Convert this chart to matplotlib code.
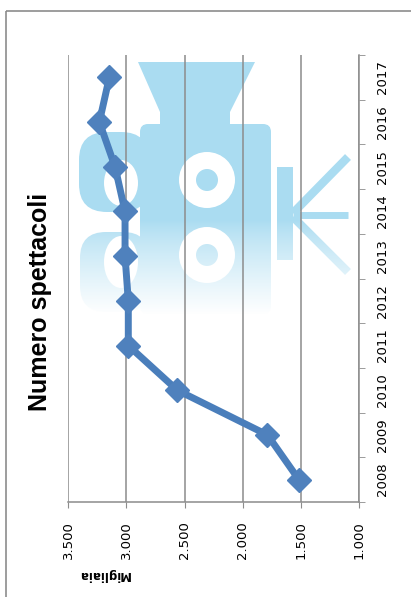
import numpy as np
import matplotlib
matplotlib.use('Agg')
import matplotlib.pyplot as plt
from matplotlib.patches import Rectangle, Polygon, FancyBboxPatch, Circle, Ellipse

years = ['2008', '2009', '2010', '2011', '2012', '2013', '2014', '2015', '2016', '2017']
spettacoli = [1517, 1787, 2562, 2984, 2984, 3012, 3012, 3098, 3233, 3147]
ticks = [1000, 1500, 2000, 2500, 3000, 3500]
tick_labels = ['1.000', '1.500', '2.000', '2.500', '3.000', '3.500']

W, H = 411, 597
fig = plt.figure(figsize=(W / 100, H / 100), dpi=100)

# background layer in pixel coords (y down)
bg = fig.add_axes([0, 0, 1, 1], zorder=0)
bg.set_xlim(0, W)
bg.set_ylim(H, 0)
bg.axis('off')
bg.add_patch(Rectangle((6, 11), 420, 600, fill=False, ec='#8c8c8c', lw=1.2))

# watermark logo
wm = '#aadcf1'
bg.add_patch(Polygon([(138, 62), (255, 62), (230, 112), (230, 124), (160, 124), (160, 112)],
                     closed=True, fc=wm, ec='none'))
bg.add_patch(FancyBboxPatch((140, 124), 131, 190, boxstyle='round,pad=0,rounding_size=8',
                            fc=wm, ec='none'))
bg.add_patch(FancyBboxPatch((79, 132), 70, 80, boxstyle='round,pad=0,rounding_size=28',
                            fc=wm, ec='none'))
bg.add_patch(FancyBboxPatch((80, 232), 69, 80, boxstyle='round,pad=0,rounding_size=26',
                            fc=wm, ec='none'))
bg.add_patch(Ellipse((121, 183), 34, 46, fc='white', ec='none'))
bg.add_patch(Ellipse((121, 262), 34, 52, fc='white', ec='none'))
for cy in (180, 255):
    bg.add_patch(Circle((207, cy), 28, fc='white', ec='none'))
    bg.add_patch(Circle((207, cy), 11, fc=wm, ec='none'))
bg.add_patch(Rectangle((277, 167), 16, 93, fc=wm, ec='none'))
bg.plot([293, 348], [213, 157], color=wm, lw=6, solid_capstyle='butt')
bg.plot([293, 348], [215, 215], color=wm, lw=5, solid_capstyle='butt')
bg.plot([293, 348], [217, 272], color=wm, lw=6, solid_capstyle='butt')
# fade the lower part of the logo
grad = np.linspace(0, 1, 100).reshape(-1, 1)
fade = np.ones((100, 1, 4))
fade[..., 3] = grad ** 0.8
bg.imshow(fade, extent=(70, 360, 315, 220), aspect='auto', interpolation='bilinear', zorder=5)

# main chart (rotated layout)
ax = fig.add_axes([68.3 / W, (H - 502) / H, (359 - 68.3) / W, (502 - 55) / H], zorder=1)
ax.patch.set_alpha(0)
y = np.arange(len(years))
ax.plot(spettacoli, y, color='#4a7ebb', lw=5, marker='D', ms=12,
        mfc='#4f81bd', mec='#4f81bd', zorder=3)

ax.set_xlim(3500, 1000)
ax.set_ylim(-0.5, len(years) - 0.5)
ax.set_xticks(ticks)
ax.set_xticklabels(tick_labels, rotation=90, fontsize=9.5)
ax.grid(axis='x', color='#8c8c8c', lw=1.1)
ax.set_axisbelow(True)

ax.yaxis.tick_right()
ax.set_yticks(y)
ax.set_yticklabels(years, rotation=90, va='center', fontsize=9.5)
ax.set_yticks(np.arange(-0.5, len(years)), minor=True)
ax.tick_params(axis='y', which='major', length=0, pad=12)
ax.tick_params(axis='y', which='minor', length=4, color='#8c8c8c', direction='out')
ax.tick_params(axis='x', length=4, color='#8c8c8c', pad=10)

for s in ('left', 'top'):
    ax.spines[s].set_visible(False)
for s in ('right', 'bottom'):
    ax.spines[s].set_color('#8c8c8c')
    ax.spines[s].set_linewidth(1.1)

fig.text(40 / W, 1 - 302 / H, 'Numero spettacoli', rotation=90, fontsize=18,
         fontweight='bold', family='Liberation Sans', ha='center', va='center')
fig.text(104 / W, 1 - 574 / H, 'Migliaia', rotation=180, fontsize=8.5,
         fontweight='bold', ha='center', va='center')

fig.savefig('out.png', dpi=100)
